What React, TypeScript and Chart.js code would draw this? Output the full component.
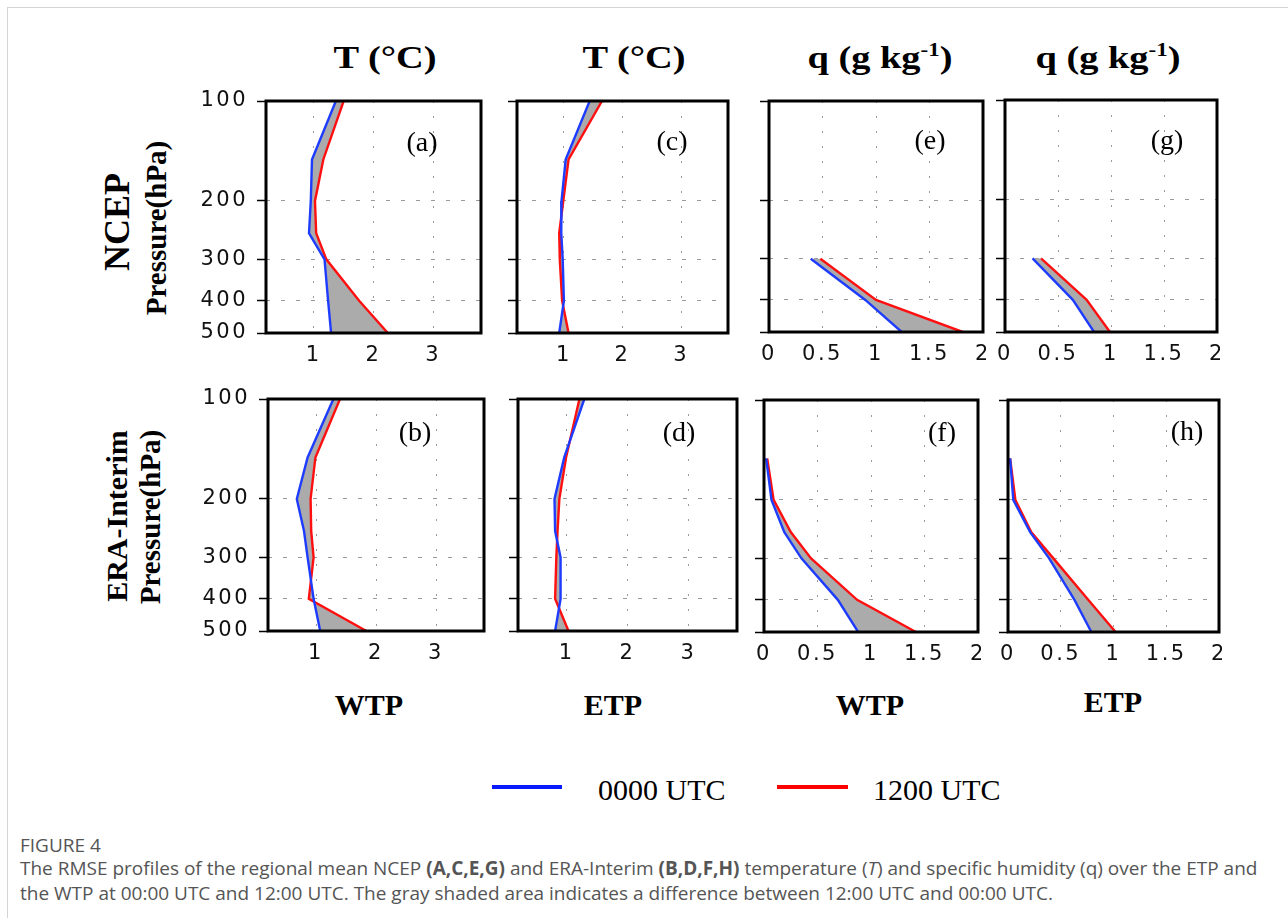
import React, { useEffect, useRef } from "react";
import { Chart, registerables } from "chart.js";

Chart.register(...registerables);

// ---------- data ----------
const LEVELS = [100, 150, 200, 250, 300, 400, 500];
const Q_LEVELS_NCEP = [300, 400, 500];
const Q_LEVELS_ERA = [150, 200, 250, 300, 400, 500];
const Y_TICKS = [100, 200, 300, 400, 500];
const T_TICKS = [1, 2, 3];
const Q_TICKS = [0, 0.5, 1, 1.5, 2];

// (a) NCEP, T, WTP
const A_0000 = [1.37, 0.97, 0.95, 0.92, 1.18, 1.24, 1.29];
const A_1200 = [1.5, 1.16, 1.02, 1.04, 1.21, 1.76, 2.24];
// (b) ERA-Interim, T, WTP
const B_0000 = [1.29, 0.86, 0.68, 0.8, 0.86, 0.96, 1.07];
const B_1200 = [1.4, 0.99, 0.91, 0.92, 0.96, 0.88, 1.84];
// (c) NCEP, T, ETP
const C_0000 = [1.44, 1.03, 0.96, 0.955, 0.98, 1.0, 0.92];
const C_1200 = [1.65, 1.08, 0.99, 0.92, 0.93, 0.97, 1.08];
// (d) ERA-Interim, T, ETP
const D_0000 = [1.29, 0.96, 0.8, 0.81, 0.9, 0.9, 0.81];
const D_1200 = [1.21, 0.99, 0.88, 0.85, 0.83, 0.81, 1.03];
// (e) NCEP, q, WTP
const E_0000 = [0.39, 0.9, 1.24];
const E_1200 = [0.48, 1.0, 1.81];
// (f) ERA-Interim, q, WTP
const F_0000 = [0.02, 0.07, 0.19, 0.35, 0.69, 0.88];
const F_1200 = [0.03, 0.09, 0.25, 0.44, 0.87, 1.42];
// (g) NCEP, q, ETP
const G_0000 = [0.26, 0.64, 0.84];
const G_1200 = [0.34, 0.77, 0.99];
// (h) ERA-Interim, q, ETP
const H_0000 = [0.02, 0.05, 0.21, 0.39, 0.63, 0.79];
const H_1200 = [0.02, 0.07, 0.22, 0.43, 0.76, 1.02];

const SERIES_NAMES = ["0000 UTC", "1200 UTC"];

// ---------- style ----------
const BLUE = "#1e3cff";
const RED = "#ff1010";
const FILL = "#ababab";
const GRID = "#9a9a9a";
const TICK_FONT = { family: "'DejaVu Sans', sans-serif", size: 21 };
const SERIF = "'Liberation Serif', 'Times New Roman', serif";
const PAD_TOP = 16;
const PAD_RIGHT = 3;
const XH = 40;

type PanelCfg = {
  levels: number[];
  blue: number[];
  red: number[];
  xMin: number;
  xMax: number;
  xTicks: number[];
  box: [number, number, number, number];
  showY: boolean;
};

const PANELS: PanelCfg[] = [
  { levels: LEVELS, blue: A_0000, red: A_1200, xMin: 0.2, xMax: 3.8, xTicks: T_TICKS, box: [266, 101, 481, 333], showY: true },
  { levels: LEVELS, blue: C_0000, red: C_1200, xMin: 0.2, xMax: 3.8, xTicks: T_TICKS, box: [517, 101, 728, 333], showY: false },
  { levels: Q_LEVELS_NCEP, blue: E_0000, red: E_1200, xMin: 0, xMax: 2, xTicks: Q_TICKS, box: [769, 101, 983, 332], showY: false },
  { levels: Q_LEVELS_NCEP, blue: G_0000, red: G_1200, xMin: 0, xMax: 2, xTicks: Q_TICKS, box: [1005, 100, 1217, 332], showY: false },
  { levels: LEVELS, blue: B_0000, red: B_1200, xMin: 0.2, xMax: 3.8, xTicks: T_TICKS, box: [268, 399, 484, 631], showY: true },
  { levels: LEVELS, blue: D_0000, red: D_1200, xMin: 0.2, xMax: 3.8, xTicks: T_TICKS, box: [518, 399, 737, 631], showY: false },
  { levels: Q_LEVELS_ERA, blue: F_0000, red: F_1200, xMin: 0, xMax: 2, xTicks: Q_TICKS, box: [764, 400, 978, 632], showY: false },
  { levels: Q_LEVELS_ERA, blue: H_0000, red: H_1200, xMin: 0, xMax: 2, xTicks: Q_TICKS, box: [1008, 400, 1219, 632], showY: false },
];

const boxPlugin = {
  id: "panelBox",
  afterDraw(chart: any) {
    const { ctx, chartArea: a } = chart;
    ctx.save();
    ctx.strokeStyle = "#000";
    ctx.lineWidth = 3;
    ctx.strokeRect(a.left, a.top, a.right - a.left, a.bottom - a.top);
    ctx.restore();
  },
};

const spacingPlugin = {
  id: "letterSpacing",
  beforeDraw(chart: any) {
    (chart.ctx as any).letterSpacing = "2.5px";
  },
};

function Panel({ p }: { p: PanelCfg }) {
  const ref = useRef<HTMLCanvasElement>(null);
  const [L, T, R, B] = p.box;
  const yW = p.showY ? 80 : 14;
  const w = R - L + yW + PAD_RIGHT;
  const h = B - T + PAD_TOP + XH;

  useEffect(() => {
    const chart = new Chart(ref.current as HTMLCanvasElement, {
      type: "line",
      data: {
        datasets: [
          {
            label: SERIES_NAMES[0],
            data: p.levels.map((lv, i) => ({ x: p.blue[i], y: lv })),
            borderColor: BLUE,
            borderWidth: 2.4,
            pointRadius: 0,
            tension: 0,
            fill: "+1",
            backgroundColor: FILL,
          },
          {
            label: SERIES_NAMES[1],
            data: p.levels.map((lv, i) => ({ x: p.red[i], y: lv })),
            borderColor: RED,
            borderWidth: 2.4,
            pointRadius: 0,
            tension: 0,
            fill: false,
          },
        ],
      },
      options: {
        animation: false,
        responsive: false,
        indexAxis: "y",
        layout: { padding: { top: PAD_TOP, right: PAD_RIGHT, left: 0, bottom: 0 } },
        plugins: {
          legend: { display: false },
          tooltip: { enabled: false },
          filler: { drawTime: "beforeDatasetsDraw" },
        },
        scales: {
          x: {
            type: "linear",
            position: "bottom",
            min: p.xMin,
            max: p.xMax,
            afterBuildTicks: (s: any) => {
              s.ticks = p.xTicks.map((v) => ({ value: v }));
            },
            afterFit: (s: any) => {
              s.height = XH;
              s.paddingLeft = 0;
              s.paddingRight = 0;
            },
            ticks: {
              font: TICK_FONT,
              color: "#111",
              padding: 10,
              autoSkip: false,
              maxRotation: 0,
              callback: (v: any) => String(v),
            },
            grid: { color: GRID, lineWidth: 1, drawTicks: false },
            border: { display: false, dash: [2, 13] },
          },
          y: {
            type: "logarithmic",
            position: "left",
            min: 100,
            max: 500,
            reverse: true,
            afterBuildTicks: (s: any) => {
              s.ticks = Y_TICKS.map((v) => ({ value: v }));
            },
            afterFit: (s: any) => {
              s.width = yW;
              s.paddingTop = 0;
              s.paddingBottom = 0;
            },
            ticks: {
              display: p.showY,
              font: TICK_FONT,
              color: "#111",
              padding: 9,
              autoSkip: false,
              callback: (v: any) => String(v),
            },
            grid: {
              color: (c: any) =>
                c.tick && (c.tick.value === 100 || c.tick.value === 500) ? "rgba(0,0,0,0)" : GRID,
              lineWidth: 1,
              drawTicks: true,
              tickLength: 9,
              tickColor: "#000",
              tickWidth: 1.5,
            },
            border: { display: false, dash: [4, 11] },
          },
        },
      } as any,
      plugins: [spacingPlugin, boxPlugin],
    });
    return () => chart.destroy();
  }, []);

  return (
    <canvas
      ref={ref}
      width={w}
      height={h}
      style={{ position: "absolute", left: L - yW, top: T - PAD_TOP, width: w, height: h }}
    />
  );
}

function Txt({
  x,
  y,
  children,
  style,
  rotate,
  sx,
}: {
  x: number;
  y: number;
  children: any;
  style?: any;
  rotate?: boolean;
  sx?: number;
}) {
  return (
    <div
      style={{
        position: "absolute",
        left: x,
        top: y,
        transform: `translate(-50%, -50%)${rotate ? " rotate(-90deg)" : ""}${sx ? ` scaleX(${sx})` : ""}`,
        whiteSpace: "nowrap",
        lineHeight: 1,
        ...style,
      }}
    >
      {children}
    </div>
  );
}

const titleStyle = { fontFamily: SERIF, fontWeight: "bold", fontSize: 32, color: "#000" };
const bottomStyle = { fontFamily: SERIF, fontWeight: "bold", fontSize: 30, color: "#000" };
const labelStyle = { fontFamily: SERIF, fontSize: 28, color: "#000" };
const presStyle = { fontFamily: SERIF, fontWeight: "bold", fontSize: 29, color: "#000" };
const capStyle = {
  fontFamily: "'Open Sans', sans-serif",
  fontSize: 19,
  color: "#555",
  position: "absolute" as const,
  left: 20,
  whiteSpace: "nowrap" as const,
  lineHeight: "20px",
};

const QTitle = () => (
  <span>
    q (g kg<span style={{ fontSize: "0.6em", position: "relative", top: "-0.6em" }}>-1</span>)
  </span>
);

export default function App() {
  return (
    <div
      style={{
        position: "fixed",
        left: 0,
        top: 0,
        width: 1288,
        height: 918,
        background: "#fff",
        overflow: "hidden",
      }}
    >
      <div
        style={{
          position: "absolute",
          left: 7,
          top: 7,
          width: 1300,
          height: 930,
          borderTop: "1px solid #d4d4d4",
          borderLeft: "1px solid #d4d4d4",
        }}
      />
      {PANELS.map((p, i) => (
        <Panel key={i} p={p} />
      ))}

      <Txt x={385} y={57} style={titleStyle} sx={1.2}>T (°C)</Txt>
      <Txt x={634} y={57} style={titleStyle} sx={1.2}>T (°C)</Txt>
      <Txt x={880} y={57} style={titleStyle} sx={1.2}><QTitle /></Txt>
      <Txt x={1108} y={57} style={titleStyle} sx={1.2}><QTitle /></Txt>

      <Txt x={117} y={222} style={{ ...presStyle, fontSize: 36 }} rotate>NCEP</Txt>
      <Txt x={117} y={516} style={{ ...presStyle, fontSize: 30 }} rotate>ERA-Interim</Txt>
      <Txt x={156} y={228} style={presStyle} rotate>Pressure(hPa)</Txt>
      <Txt x={150} y={517} style={presStyle} rotate>Pressure(hPa)</Txt>

      <Txt x={422} y={142} style={labelStyle}>(a)</Txt>
      <Txt x={672} y={141} style={labelStyle}>(c)</Txt>
      <Txt x={930} y={140} style={labelStyle}>(e)</Txt>
      <Txt x={1167} y={140} style={labelStyle}>(g)</Txt>
      <Txt x={415} y={432} style={labelStyle}>(b)</Txt>
      <Txt x={679} y={432} style={labelStyle}>(d)</Txt>
      <Txt x={942} y={432} style={labelStyle}>(f)</Txt>
      <Txt x={1187} y={431} style={labelStyle}>(h)</Txt>

      <Txt x={369} y={705} style={bottomStyle}>WTP</Txt>
      <Txt x={613} y={705} style={bottomStyle}>ETP</Txt>
      <Txt x={870} y={705} style={bottomStyle}>WTP</Txt>
      <Txt x={1113} y={702} style={bottomStyle}>ETP</Txt>

      <div style={{ position: "absolute", left: 492, top: 785, width: 70, height: 4, background: "#0a1aff" }} />
      <div style={{ position: "absolute", left: 598, top: 775, fontFamily: SERIF, fontSize: 30, lineHeight: "30px", whiteSpace: "nowrap" }}>
        {SERIES_NAMES[0]}
      </div>
      <div style={{ position: "absolute", left: 777, top: 785, width: 71, height: 4, background: "#ff0000" }} />
      <div style={{ position: "absolute", left: 873, top: 775, fontFamily: SERIF, fontSize: 30, lineHeight: "30px", whiteSpace: "nowrap" }}>
        {SERIES_NAMES[1]}
      </div>

      <div style={{ ...capStyle, top: 835 }}>FIGURE 4</div>
      <div style={{ ...capStyle, top: 858 }}>
        The RMSE profiles of the regional mean NCEP <b>(A,C,E,G)</b> and ERA-Interim <b>(B,D,F,H)</b> temperature (<i>T</i>) and specific humidity (q) over the ETP and
      </div>
      <div style={{ ...capStyle, top: 883 }}>
        the WTP at 00:00 UTC and 12:00 UTC. The gray shaded area indicates a difference between 12:00 UTC and 00:00 UTC.
      </div>
    </div>
  );
}
